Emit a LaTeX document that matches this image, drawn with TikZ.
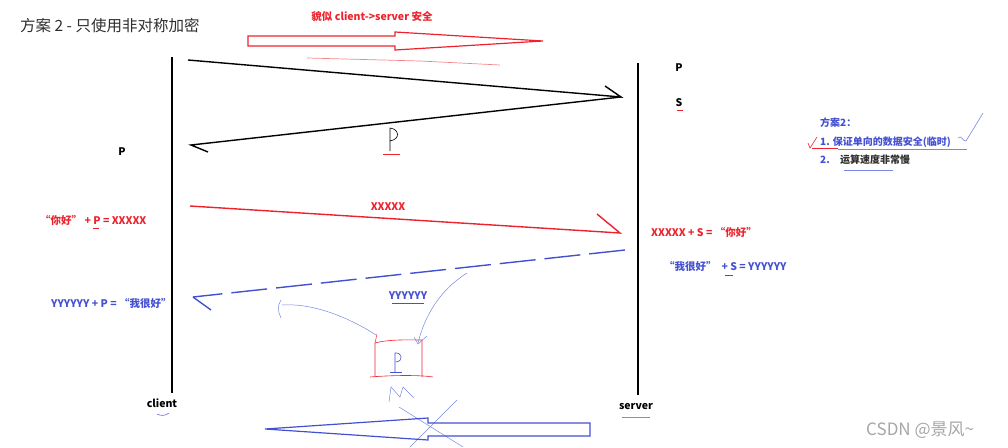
\documentclass[tikz,border=0pt]{standalone}
\usepackage{fontspec}
\setmainfont{Noto Sans CJK SC}
\definecolor{mred}{RGB}{238,34,44}
\definecolor{mblue}{RGB}{68,80,210}
\definecolor{lblue}{RGB}{120,135,228}
\definecolor{dark}{RGB}{45,45,45}
\tikzset{
  lbl/.style={inner sep=0pt, font=\fontsize{10.5}{12}\selectfont\bfseries},
  note/.style={inner sep=0pt, font=\fontsize{10}{12}\selectfont\bfseries},
  lifeline/.style={line width=1.4pt, black},
  msg/.style={line width=1.4pt},
  scribble/.style={lblue, line width=0.5pt},
}
\begin{document}
\begin{tikzpicture}[x=1pt,y=-1pt]
\useasboundingbox (0,0) rectangle (1008,447);
% title
\node[inner sep=0pt, anchor=west, text=dark, font=\fontsize{15.5}{17}\selectfont] (title) at (20,26) {方案 2 - 只使用非对称加密};
% top red text and arrow
\node[lbl, text=mred] (seems) at (372,17) {貌似 client->server 安全};
\draw[mred, line width=1.2pt] (248,36) -- (395,36) -- (395,32) -- (543,41) -- (395,50) -- (395,46) -- (248,46) -- cycle;
\draw[mred!55, line width=0.7pt] (307,58) -- (420,61) -- (500,65);
% lifelines
\coordinate (ctop) at (172,57); \coordinate (cbot) at (172,393);
\coordinate (stop) at (638,63); \coordinate (sbot) at (638,395);
\draw[lifeline] (ctop) -- (cbot);
\draw[lifeline] (stop) -- (sbot);
% black request / return
\coordinate (m1s) at (188,60); \coordinate (m1e) at (621,97); \coordinate (m2e) at (191,145);
\draw[msg] (m1s) -- (m1e) -- ++(-16,-11);
\draw[msg] (m1e) -- (m2e) -- ++(17,7);
% handwritten P
\draw[line width=0.6pt] (390,151) -- (390,128) .. controls (399,129) and (401,139) .. (390,141);
\draw[mred, line width=0.8pt] (383,154) -- (400,154);
% red message
\coordinate (r1s) at (190,206); \coordinate (r1e) at (620,233);
\draw[mred, msg] (r1s) -- (r1e) -- ++(-23,-19);
\node[lbl, text=mred] (xx) at (388,207) {XXXXX};
% blue dashed message
\coordinate (b1s) at (625,250); \coordinate (b1e) at (193,297);
\draw[mblue, msg, dash pattern=on 36pt off 9pt] (b1s) -- (b1e);
\draw[mblue, msg] (b1e) -- ++(18,13);
\node[lbl, text=mblue] (yy) at (408,296) {YYYYYY};
\draw[mblue, line width=0.7pt] (392,303) -- (424,303);
% labels
\node[lbl] (pc) at (122,152) {P};
\node[lbl] (ps) at (679,68) {P};
\node[lbl] (ss) at (679,103) {S};
\draw[mred, line width=0.6pt] (677,110) -- (683,110);
\node[lbl, text=mred, anchor=west] (enc) at (40,220) {“你好” + P = XXXXX};
\draw[mred, line width=0.6pt] (93,228) -- (99,228);
\node[lbl, text=mred, anchor=west] (dec) at (651,232) {XXXXX + S = “你好”};
\node[lbl, text=mblue, anchor=west] (enc2) at (664,266) {“我很好”\ \ + S = YYYYYY};
\draw[mblue, line width=0.6pt] (725,275) -- (733,275);
\node[lbl, text=mblue, anchor=west] (dec2) at (51,303) {YYYYYY + P = “我很好”};
\node[lbl] (client) at (162,403) {client};
\draw[mblue, line width=0.5pt] (157,414) .. controls (161,416) and (165,416) .. (169,413);
\node[lbl] (server) at (636,407) {server};
\draw[mred!70, line width=0.6pt] (622,417) -- (650,417);
% notes
\node[note, text=mblue, anchor=west] (n0) at (820,123) {方案2：};
\node[note, text=mblue, anchor=west] (n1) at (820,142) {1. 保证单向的数据安全(临时)};
\node[note, text=mblue, anchor=west] (n2a) at (820,160) {2.};
\node[note, text=dark, anchor=west] (n2b) at (840,160) {运算速度非常慢};
\draw[mred, line width=0.6pt] (808,143) -- (810,148) -- (817,137);
\draw[mred, line width=0.6pt] (812,148) -- (838,148);
\draw[lblue, line width=0.6pt] (838,149) -- (967,149);
\draw[lblue, line width=0.6pt] (958,138) .. controls (961,134) and (963,142) .. (966,141) -- (983,113);
\draw[lblue, line width=0.6pt] (844,170) -- (893,170);
% red box with P
\draw[mred, line width=0.6pt] (375,377) -- (375,343) .. controls (390,339) and (410,340) .. (422,340) -- (422,377);
\draw[mred, line width=0.6pt] (370,377) .. controls (395,375) and (420,375) .. (433,377);
\draw[mred, line width=0.5pt] (375,343) -- (377,334);
\draw[mblue, line width=0.6pt] (395,372) -- (395,353) .. controls (402,352) and (404,361) .. (396,362);
\draw[mblue, line width=0.6pt] (390,372) -- (402,372);
% scribbles
\draw[scribble] (376,335) .. controls (345,315) and (310,303) .. (282,305);
\draw[scribble] (281,300) .. controls (277,306) and (278,312) .. (281,318);
\draw[scribble] (467,273) .. controls (440,290) and (425,315) .. (418,343);
\draw[scribble] (414,337) -- (418,344) -- (427,336);
\draw[scribble] (389,402) -- (391,387) -- (400,397) -- (403,387) -- (414,398);
\draw[scribble] (399,407) -- (463,447);
\draw[scribble] (457,400) -- (410,447);
% bottom blue arrow
\draw[mblue, line width=1.2pt] (590,423) -- (428,423) -- (428,418) -- (265,429) -- (428,440) -- (428,436) -- (590,436) -- cycle;
% watermark
\node[inner sep=0pt, anchor=west, text=black!35, font=\fontsize{17}{19}\selectfont] (wm) at (866,430) {CSDN @景风\textasciitilde};
\end{tikzpicture}
\end{document}
